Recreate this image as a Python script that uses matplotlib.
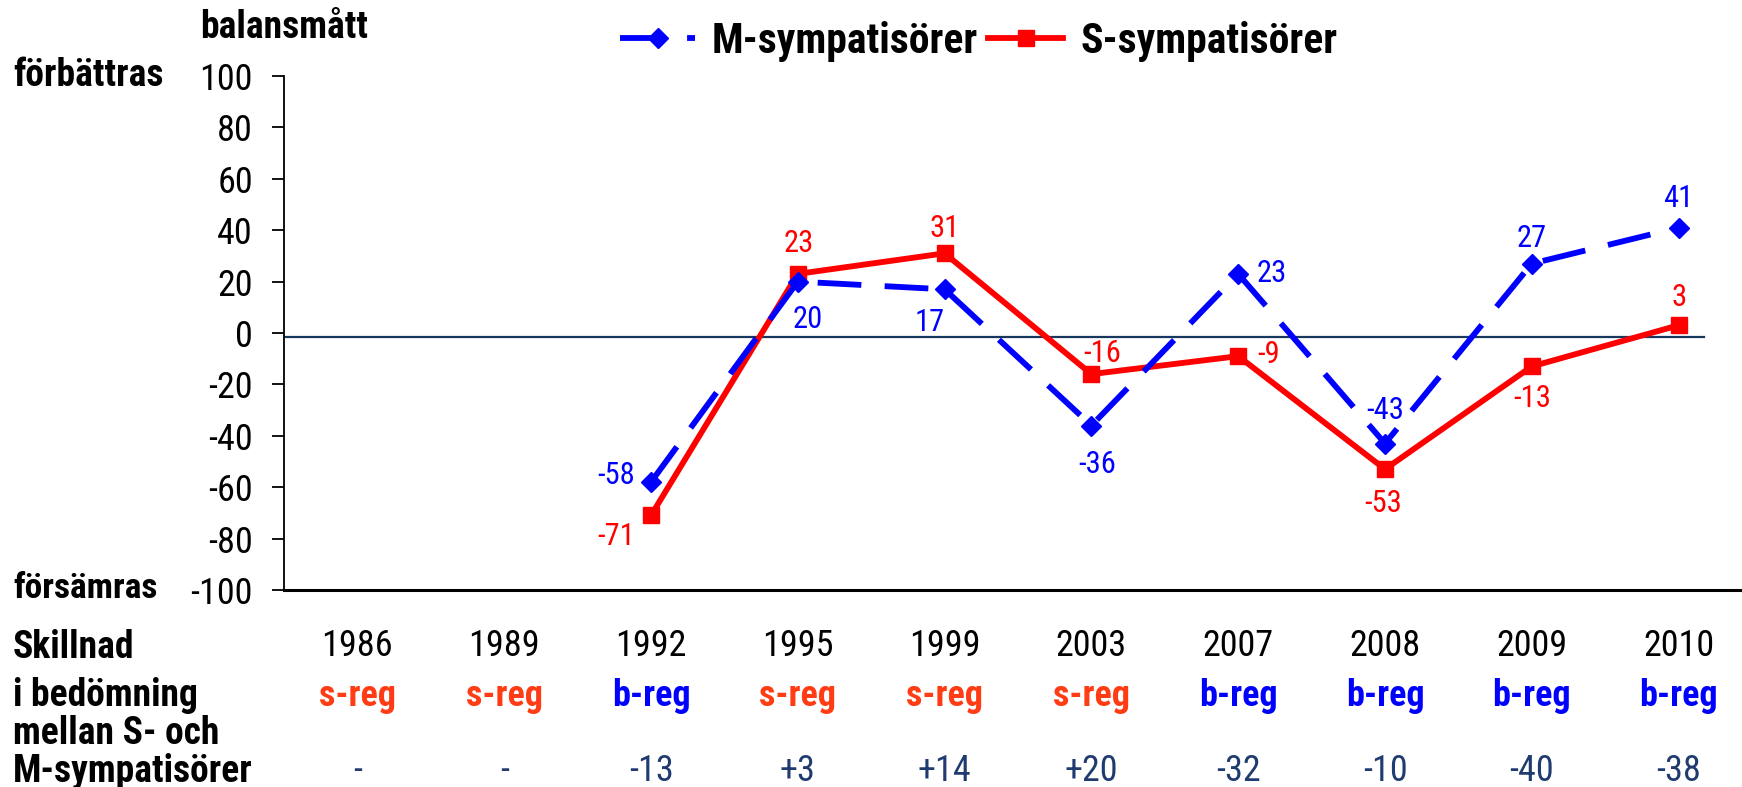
import numpy as np
import matplotlib
matplotlib.use("Agg")
import matplotlib.pyplot as plt
import matplotlib.transforms as mtransforms

years = ['1986', '1989', '1992', '1995', '1999', '2003', '2007', '2008', '2009', '2010']
m_symp = [np.nan, np.nan, -58, 20, 17, -36, 23, -43, 27, 41]
s_symp = [np.nan, np.nan, -71, 23, 31, -16, -9, -53, -13, 3]
regering = ['s-reg', 's-reg', 'b-reg', 's-reg', 's-reg', 's-reg', 'b-reg', 'b-reg', 'b-reg', 'b-reg']
skillnad = ['-', '-', '-13', '+3', '+14', '+20', '-32', '-10', '-40', '-38']

# data label offsets in points (dx, dy)
m_off = [None, None, (-25, 5), (7, -27), (-11, -24), (4, -28), (24, 0), (0, 24), (0, 18), (0, 21)]
s_off = [None, None, (-25, -15), (1, 22), (0, 18), (8, 15), (22, 1), (-1, -25), (0, -23), (0, 20)]

BLUE = '#0000FF'
RED = '#FF0000'
SREG = '#FF3C14'
NAVY = '#1F3B70'
plt.rcParams['font.family'] = ['Roboto Condensed', 'DejaVu Sans']
plt.rcParams['axes.unicode_minus'] = False

fig = plt.figure(figsize=(17.42, 7.87), dpi=100)
ax = fig.add_axes([284 / 1742, 197 / 787, 1468 / 1742, 514 / 787])
x = np.arange(len(years))

ax.axhline(-1.5, xmin=0, xmax=0.967, color='#17375E', lw=1.6, zorder=1)

ax.plot(x, m_symp, color=BLUE, lw=4.2, dashes=(7.5, 4), marker='D', ms=10.5,
        label='M-sympatisörer', zorder=3)
ax.plot(x, s_symp, color=RED, lw=4.2, marker='s', ms=11.5,
        label='S-sympatisörer', zorder=2)

for i in x:
    if not np.isnan(m_symp[i]):
        ax.annotate(f'{m_symp[i]}', (i, m_symp[i]), xytext=m_off[i], textcoords='offset points',
                    ha='center', va='center', color=BLUE, fontsize=22)
    if not np.isnan(s_symp[i]):
        ax.annotate(f'{s_symp[i]}', (i, s_symp[i]), xytext=s_off[i], textcoords='offset points',
                    ha='center', va='center', color=RED, fontsize=22)

ax.set_xlim(-0.5, 9.5)
ax.set_ylim(-100, 100)
ax.set_yticks(range(-100, 101, 20))
ax.tick_params(axis='y', length=8.5, width=1.3, pad=14, labelsize=26, direction='out')
ax.set_xticks(x, years)
ax.tick_params(axis='x', length=0, pad=27, labelsize=26)
for s in ['top', 'right']:
    ax.spines[s].set_visible(False)
ax.spines['left'].set_linewidth(1.3)
ax.spines['bottom'].set_linewidth(2.2)

tr = mtransforms.blended_transform_factory(ax.transData, fig.transFigure)
for i in x:
    ax.text(i, 1 - 696 / 787, regering[i], transform=tr, ha='center', va='center',
            fontsize=26, fontweight='bold', color=SREG if regering[i] == 's-reg' else BLUE)
    ax.text(i, 1 - 771 / 787, skillnad[i], transform=tr, ha='center', va='center',
            fontsize=26, color=NAVY)

bold = dict(fontsize=27, fontweight='bold', va='center', ha='left')
fig.text(200 / 1742, 1 - 28 / 787, 'balansmått', **bold)
fig.text(13 / 1742, 1 - 76 / 787, 'förbättras', **bold)
fig.text(13 / 1742, 1 - 589 / 787, 'försämras', fontsize=25.5, fontweight='bold', va='center', ha='left')
for txt, yy in [('Skillnad', 648), ('i bedömning', 696), ('mellan S- och', 733), ('M-sympatisörer', 771)]:
    fig.text(13 / 1742, 1 - yy / 787, txt, **bold)

leg = fig.legend(loc='center left', bbox_to_anchor=(620 / 1742, 1 - 41 / 787), ncol=2,
                 frameon=False, prop=dict(size=30, weight='bold'), handlelength=1.8,
                 handletextpad=0.4, columnspacing=0.25, borderpad=0, borderaxespad=0)

fig.savefig('out.png', dpi=100)
